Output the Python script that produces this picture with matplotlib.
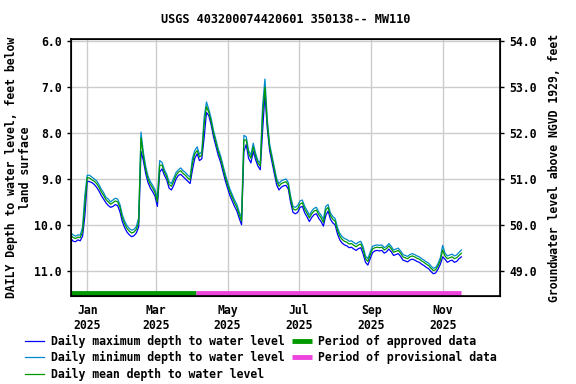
import numpy as np
import pandas as pd
import matplotlib
matplotlib.use("Agg")
import matplotlib.pyplot as plt
import matplotlib.dates as mdates

# daily readings sampled every 2 days, 2024-12-18 .. 2025-11-17
dates = pd.date_range("2024-12-18", periods=168, freq="2D")

mean_depth = [
    10.23, 10.28, 10.30, 10.27, 10.28, 10.15, 9.55, 8.97, 8.98, 9.02,
    9.05, 9.10, 9.18, 9.28, 9.36, 9.45, 9.50, 9.55, 9.52, 9.48,
    9.50, 9.62, 9.85, 9.98, 10.08, 10.14, 10.18, 10.16, 10.10, 9.95,
    8.10, 8.50, 8.80, 9.00, 9.12, 9.20, 9.30, 9.50, 8.70, 8.70,
    8.85, 8.95, 9.12, 9.16, 9.05, 8.92, 8.85, 8.82, 8.88, 8.92,
    8.98, 9.02, 8.65, 8.45, 8.38, 8.52, 8.48, 7.80, 7.42, 7.55,
    7.75, 8.00, 8.20, 8.40, 8.55, 8.75, 8.95, 9.12, 9.28, 9.40,
    9.52, 9.62, 9.78, 9.92, 8.15, 8.15, 8.45, 8.55, 8.30, 8.50,
    8.65, 8.72, 7.60, 7.00, 7.80, 8.30, 8.55, 8.80, 9.05, 9.16,
    9.10, 9.08, 9.06, 9.14, 9.45, 9.65, 9.68, 9.65, 9.55, 9.52,
    9.66, 9.75, 9.85, 9.76, 9.70, 9.68, 9.78, 9.85, 9.95, 9.68,
    9.62, 9.80, 9.88, 9.92, 10.12, 10.25, 10.32, 10.36, 10.38, 10.42,
    10.41, 10.45, 10.48, 10.44, 10.42, 10.55, 10.74, 10.80, 10.66, 10.53,
    10.50, 10.49, 10.50, 10.49, 10.55, 10.52, 10.46, 10.52, 10.60, 10.58,
    10.56, 10.62, 10.70, 10.72, 10.74, 10.70, 10.68, 10.70, 10.73, 10.75,
    10.79, 10.82, 10.86, 10.89, 10.95, 11.00, 10.98, 10.90, 10.78, 10.55,
    10.68, 10.74, 10.72, 10.70, 10.74, 10.72, 10.67, 10.62,
]

max_depth = [
    10.30, 10.36, 10.37, 10.33, 10.35, 10.25, 9.80, 9.05, 9.06, 9.08,
    9.12, 9.18, 9.26, 9.36, 9.44, 9.52, 9.58, 9.62, 9.60, 9.56,
    9.58, 9.72, 9.93, 10.06, 10.16, 10.22, 10.26, 10.24, 10.18, 10.05,
    8.40, 8.60, 8.88, 9.08, 9.20, 9.28, 9.38, 9.60, 8.85, 8.78,
    8.92, 9.02, 9.20, 9.24, 9.14, 9.00, 8.92, 8.90, 8.95, 9.00,
    9.05, 9.10, 8.80, 8.55, 8.45, 8.60, 8.56, 8.10, 7.55, 7.62,
    7.82, 8.08, 8.28, 8.48, 8.63, 8.83, 9.03, 9.20, 9.36, 9.48,
    9.60, 9.70, 9.86, 10.00, 8.40, 8.25, 8.55, 8.65, 8.40, 8.58,
    8.72, 8.80, 7.95, 7.15, 7.90, 8.38, 8.63, 8.88, 9.13, 9.24,
    9.18, 9.15, 9.14, 9.22, 9.52, 9.73, 9.76, 9.73, 9.62, 9.60,
    9.74, 9.83, 9.93, 9.84, 9.78, 9.76, 9.86, 9.93, 10.03, 9.80,
    9.70, 9.88, 9.96, 10.00, 10.20, 10.33, 10.40, 10.44, 10.46, 10.50,
    10.49, 10.53, 10.56, 10.52, 10.50, 10.64, 10.82, 10.88, 10.74, 10.61,
    10.57, 10.56, 10.57, 10.56, 10.62, 10.59, 10.53, 10.59, 10.67, 10.65,
    10.63, 10.69, 10.77, 10.79, 10.81, 10.77, 10.75, 10.77, 10.80, 10.82,
    10.86, 10.89, 10.93, 10.96, 11.02, 11.07, 11.05, 10.97, 10.86, 10.70,
    10.75, 10.82, 10.79, 10.77, 10.82, 10.80, 10.74, 10.70,
]

min_depth = [
    10.18, 10.22, 10.25, 10.22, 10.23, 10.05, 9.35, 8.92, 8.92, 8.96,
    9.00, 9.04, 9.12, 9.22, 9.30, 9.40, 9.44, 9.50, 9.46, 9.42,
    9.44, 9.56, 9.78, 9.92, 10.02, 10.08, 10.12, 10.10, 10.04, 9.85,
    7.98, 8.42, 8.72, 8.94, 9.06, 9.14, 9.24, 9.42, 8.60, 8.64,
    8.80, 8.90, 9.06, 9.10, 8.98, 8.86, 8.80, 8.76, 8.82, 8.86,
    8.92, 8.96, 8.55, 8.38, 8.30, 8.46, 8.40, 7.65, 7.32, 7.48,
    7.68, 7.94, 8.14, 8.34, 8.49, 8.69, 8.89, 9.06, 9.22, 9.34,
    9.46, 9.56, 9.72, 9.85, 8.05, 8.08, 8.38, 8.48, 8.22, 8.44,
    8.60, 8.66, 7.40, 6.82, 7.70, 8.24, 8.49, 8.74, 8.99, 9.10,
    9.04, 9.02, 9.00, 9.08, 9.38, 9.60, 9.62, 9.58, 9.48, 9.46,
    9.60, 9.69, 9.79, 9.70, 9.64, 9.62, 9.72, 9.79, 9.88, 9.60,
    9.56, 9.74, 9.82, 9.86, 10.06, 10.19, 10.26, 10.30, 10.32, 10.36,
    10.35, 10.39, 10.42, 10.38, 10.36, 10.48, 10.68, 10.74, 10.60, 10.47,
    10.45, 10.44, 10.45, 10.44, 10.50, 10.47, 10.41, 10.47, 10.55, 10.53,
    10.51, 10.57, 10.65, 10.67, 10.69, 10.65, 10.63, 10.65, 10.68, 10.70,
    10.74, 10.77, 10.81, 10.84, 10.90, 10.95, 10.93, 10.85, 10.72, 10.45,
    10.62, 10.68, 10.66, 10.64, 10.68, 10.66, 10.60, 10.55,
]

approved_period = ["2024-12-18", "2025-04-04"]
provisional_period = ["2025-04-04", "2025-11-17"]
period_depth = 11.5

land_surface = 60.0  # feet above NGVD 1929
month_ticks = ["2025-01-01", "2025-03-01", "2025-05-01", "2025-07-01", "2025-09-01", "2025-11-01"]
month_labels = ["Jan\n2025", "Mar\n2025", "May\n2025", "Jul\n2025", "Sep\n2025", "Nov\n2025"]

plt.rcParams['font.family'] = ['DejaVu Sans Mono']
plt.rcParams['font.weight'] = 'bold'
plt.rcParams['axes.titleweight'] = 'bold'
plt.rcParams['axes.labelweight'] = 'bold'
plt.rcParams['font.size'] = 8.3

fig = plt.figure(figsize=(5.76, 3.84), dpi=100)
ax = fig.add_axes([0.123, 0.229, 0.745, 0.669])

ax.plot(dates, max_depth, color='#0000ff', lw=0.9, label='Daily maximum depth to water level')
ax.plot(dates, min_depth, color='#0088cc', lw=0.9, label='Daily minimum depth to water level')
ax.plot(dates, mean_depth, color='#009900', lw=0.9, label='Daily mean depth to water level')
ax.plot(pd.to_datetime(approved_period), [period_depth] * 2, color='#009900', lw=3.5,
        solid_capstyle='butt', label='Period of approved data')
ax.plot(pd.to_datetime(provisional_period), [period_depth] * 2, color='#ee44dd', lw=3.5,
        solid_capstyle='butt', label='Period of provisional data')

ax.set_xlim(pd.Timestamp("2024-12-18"), pd.Timestamp("2025-12-20"))
ax.set_ylim(11.556, 5.95)
ax.set_yticks([6, 7, 8, 9, 10, 11])
ax.yaxis.set_major_formatter(matplotlib.ticker.FormatStrFormatter('%.1f'))
ax.set_xticks(pd.to_datetime(month_ticks))
ax.set_xticklabels(month_labels)
ax.grid(True, color='#cccccc', lw=1)
ax.set_axisbelow(True)
ax.tick_params(direction='out', length=3, width=1)
ax.tick_params(axis='x', length=0, pad=6)
for s in ax.spines.values():
    s.set_linewidth(1.2)

ax.set_ylabel('DAILY Depth to water level, feet below\nland surface', labelpad=2,
              linespacing=1.1)
ax.set_title('USGS 403200074420601 350138-- MW110', pad=12, fontsize=8.6)

ax2 = ax.twinx()
lo, hi = ax.get_ylim()
ax2.set_ylim(land_surface - lo, land_surface - hi)
ax2.set_yticks([49, 50, 51, 52, 53, 54])
ax2.yaxis.set_major_formatter(matplotlib.ticker.FormatStrFormatter('%.1f'))
ax2.tick_params(direction='out', length=3, width=1)
ax2.set_ylabel('Groundwater level above NGVD 1929, feet', labelpad=8)

handles, labels = ax.get_legend_handles_labels()
fig.legend(handles, labels, loc='upper left', bbox_to_anchor=(0.035, 0.14), ncol=2,
           frameon=False, handlelength=1.7, handletextpad=0.6, columnspacing=0.6,
           labelspacing=0.3, borderaxespad=0)

fig.savefig('out.png', dpi=100)
